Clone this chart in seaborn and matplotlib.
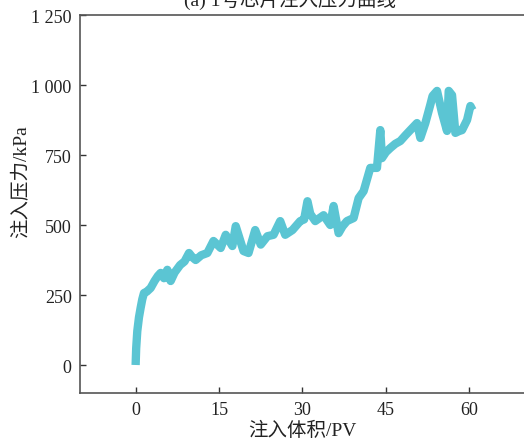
import matplotlib
matplotlib.use("Agg")
import matplotlib.pyplot as plt
import seaborn as sns
import pandas as pd

# Data
volume_pv = [0.0, 0.1, 0.3, 0.6, 0.9, 1.2, 1.5, 2.0, 2.7, 3.4, 4.0, 4.5, 5.1, 5.7, 6.3, 7.0,
             8.0, 8.8, 9.6, 10.2, 10.8, 11.8, 12.9, 14.0, 15.3, 16.2, 17.4, 18.0, 19.4, 20.3,
             21.5, 22.5, 23.7, 24.8, 26.0, 26.9, 28.2, 29.6, 30.3, 30.9, 31.4, 32.3, 33.8,
             35.0, 35.6, 36.5, 37.2, 38.0, 39.2, 40.1, 41.0, 42.2, 43.4, 44.0, 44.3, 45.0,
             45.8, 46.7, 47.6, 48.5, 49.4, 50.6, 51.2, 52.1, 53.0, 53.4, 54.2, 55.1, 56.0,
             56.3, 56.9, 57.5, 58.1, 58.7, 59.6, 60.2, 60.6]
pressure_kpa = [0, 60, 121, 170, 204, 235, 257, 262, 275, 300, 318, 329, 310, 340, 300, 330,
                357, 370, 400, 385, 375, 392, 400, 443, 418, 465, 425, 496, 407, 400,
                482, 430, 460, 465, 514, 465, 482, 514, 520, 585, 540, 514, 535,
                500, 568, 471, 495, 514, 525, 596, 621, 704, 704, 839, 739, 760,
                775, 790, 800, 820, 839, 864, 811, 864, 930, 961, 979, 900, 836,
                979, 964, 829, 835, 839, 875, 925, 910]

x_ticks = [0, 15, 30, 45, 60]
y_ticks = [0, 250, 500, 750, 1000, 1250]
y_tick_labels = ["0", "250", "500", "750", "1 000", "1 250"]

df = pd.DataFrame({"v": volume_pv, "p": pressure_kpa})

sns.set_theme(style="white")
plt.rcParams["font.family"] = ["Liberation Serif", "Noto Sans CJK SC"]

fig = plt.figure(figsize=(5.24, 4.39), dpi=100)
ax = fig.add_axes([0.1527, 0.1025, 0.849, 0.861])

sns.lineplot(data=df, x="v", y="p", ax=ax, color="#5BC5D3", linewidth=6.0,
             estimator=None, sort=False)
for line in ax.lines:
    line.set_solid_joinstyle("round")
    line.set_solid_capstyle("butt")

ax.set_xlim(-10, 70)
ax.set_ylim(-100, 1250)
ax.set_xticks(x_ticks)
ax.set_yticks(y_ticks)
ax.set_yticklabels(y_tick_labels)
ax.tick_params(axis="both", direction="in", length=4, width=1, colors="#333333",
               labelsize=13, labelcolor="#222222", pad=6, left=True, bottom=True)

for side in ["left", "bottom", "top"]:
    ax.spines[side].set_visible(True)
    ax.spines[side].set_color("#555555")
    ax.spines[side].set_linewidth(1.2)
ax.spines["right"].set_visible(False)

ax.set_xlabel("注入体积/PV", fontsize=14, color="#222222", labelpad=2)
ax.set_ylabel("注入压力/kPa", fontsize=14, color="#222222")
ax.yaxis.set_label_coords(-0.112, 0.563)

fig.text(0.553, 1 - 10 / 439, "(a) 1号芯片注入压力曲线", ha="center", va="bottom",
         fontsize=14, color="#222222")

fig.savefig("out.png", dpi=100)
